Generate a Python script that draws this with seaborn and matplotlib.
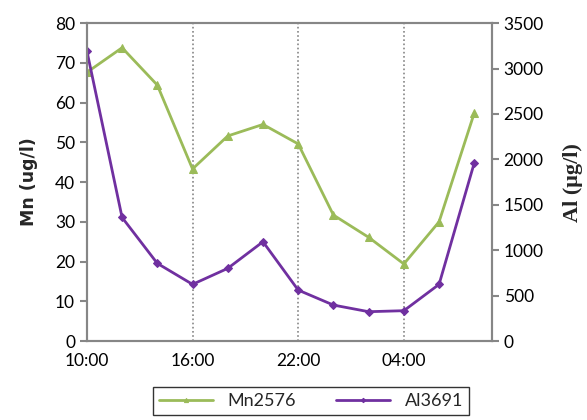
"""Mn and Al concentrations over a day, two y axes."""
import numpy as np
import pandas as pd
import matplotlib
matplotlib.use('Agg')
import matplotlib.pyplot as plt
import seaborn as sns

# hours since midnight of day 1 (34 = 10:00 next day)
hours = [10, 12, 14, 16, 18, 20, 22, 24, 26, 28, 30, 32]
mn2576 = [67.6, 73.8, 64.4, 43.3, 51.6, 54.5, 49.6, 31.7, 26.1, 19.4, 30.0, 57.4]
al3691 = [3195, 1360, 855, 624, 800, 1093, 561, 396, 323, 334, 624, 1962]
tick_hours = [10, 16, 22, 28]
tick_labels = ['10:00', '16:00', '22:00', '04:00']

green = '#9BBB59'
purple = '#7030A0'
grey = '#868686'

sns.set_style('white')
plt.rcParams['font.family'] = ['Lato', 'DejaVu Sans']

df = pd.DataFrame({'hour': hours, 'Mn2576': mn2576, 'Al3691': al3691})

fig = plt.figure(figsize=(5.87, 4.2), dpi=100)
ax = fig.add_axes([0.148, 0.188, 0.690, 0.757])
ax2 = ax.twinx()

sns.lineplot(data=df, x='hour', y='Mn2576', ax=ax, color=green, lw=2,
             marker='^', markersize=6, markeredgecolor=green, label='Mn2576',
             legend=False)
sns.lineplot(data=df, x='hour', y='Al3691', ax=ax2, color=purple, lw=2,
             marker='D', markersize=4.5, markeredgecolor=purple, label='Al3691',
             legend=False)

ax.set_xlim(10, 33)
ax.set_ylim(0, 80)
ax.set_yticks(np.arange(0, 81, 10))
ax2.set_ylim(0, 3500)
ax2.set_yticks(np.arange(0, 3501, 500))
ax.set_xticks(tick_hours)
ax.set_xticklabels(tick_labels)

for h in tick_hours[1:]:
    ax.axvline(h, color=grey, ls=(0, (1, 1.5)), lw=1.2, zorder=0)

for a in (ax, ax2):
    for s in a.spines.values():
        s.set_color(grey)
        s.set_linewidth(1.5)
    a.tick_params(colors=grey, labelcolor='black', labelsize=12.5, length=5,
                  width=1.5, direction='out')

ax.set_xlabel('')
ax.set_ylabel('Mn (ug/l)', fontsize=12.5, fontweight='bold',
              family=['DejaVu Sans'], labelpad=12)
ax2.set_ylabel('Al (\u03bcg/l)', fontsize=16, fontweight='bold',
               family=['Liberation Serif'], labelpad=14)

lines = ax.get_lines()[:1] + ax2.get_lines()[:1]
leg = fig.legend(lines, ['Mn2576', 'Al3691'], loc='center',
                 bbox_to_anchor=(0.53, 0.045), ncol=2, frameon=True,
                 fancybox=False, fontsize=13, markerscale=0.5,
                 handlelength=3.0, columnspacing=2.2, borderpad=0.35)
leg.get_frame().set_edgecolor('black')
leg.get_frame().set_linewidth(1)

fig.savefig('out.png', dpi=100)
